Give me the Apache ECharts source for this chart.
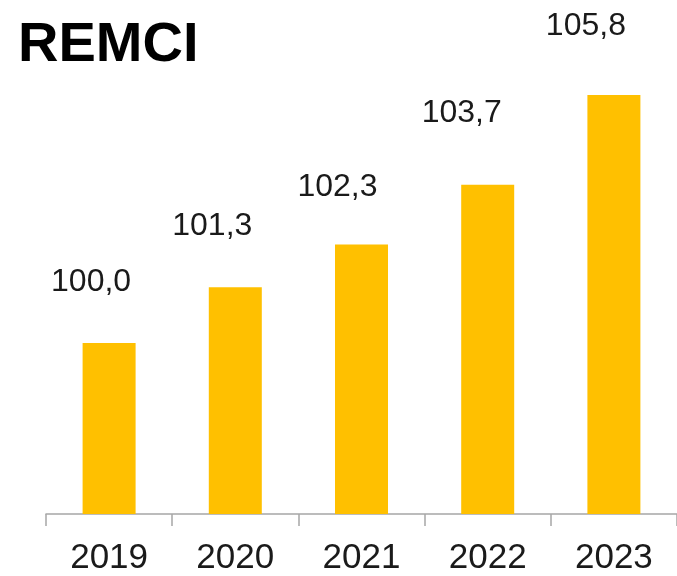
<!DOCTYPE html>
<html>
<head>
<meta charset="utf-8">
<script src="https://cdn.jsdelivr.net/npm/echarts@6/dist/echarts.min.js"></script>
<style>
html,body{margin:0;padding:0;background:#fff;}
#c{width:677px;height:576px;}
</style>
</head>
<body>
<div id="c"></div>
<script>
const titleText = "REMCI";
const categories = ["2019", "2020", "2021", "2022", "2023"];
const values = [100.0, 101.3, 102.3, 103.7, 105.8];

const labelShift = [[-18, -40], [-23, -40], [-24, -36], [-26, -51], [-28, -48]];

const chart = echarts.init(document.getElementById('c'), null, {renderer: 'canvas'});
const fmt = v => v.toFixed(1).replace('.', ',');

chart.setOption({
  animation: false,
  backgroundColor: '#ffffff',
  title: {
    text: titleText,
    left: 13,
    top: 13,
    textStyle: {
      fontFamily: 'Liberation Sans, Arial, sans-serif',
      fontWeight: 'bold',
      fontSize: 56,
      color: '#000000'
    }
  },
  grid: {left: 46, width: 636, top: 86.4, bottom: 59.3, containLabel: false},
  xAxis: {
    type: 'category',
    data: categories,
    axisLine: {show: true, lineStyle: {color: '#a6a6a6', width: 1.5}},
    axisTick: {show: true, inside: false, length: 12, alignWithLabel: false, lineStyle: {color: '#a6a6a6', width: 1.5}},
    axisLabel: {
      margin: 27,
      fontFamily: 'Liberation Sans, Arial, sans-serif',
      fontSize: 35,
      color: '#1a1a1a'
    }
  },
  yAxis: {
    type: 'value',
    min: 96,
    max: 106,
    show: false,
    splitLine: {show: false}
  },
  series: [{
    type: 'bar',
    barWidth: 53,
    itemStyle: {color: '#FFC000'},
    data: values.map((v, i) => ({
      value: v,
      label: {offset: labelShift[i]}
    })),
    label: {
      show: true,
      position: 'top',
      distance: 5,
      formatter: p => fmt(p.value),
      fontFamily: 'Liberation Sans, Arial, sans-serif',
      fontSize: 32,
      color: '#1a1a1a'
    }
  }]
});
</script>
</body>
</html>
